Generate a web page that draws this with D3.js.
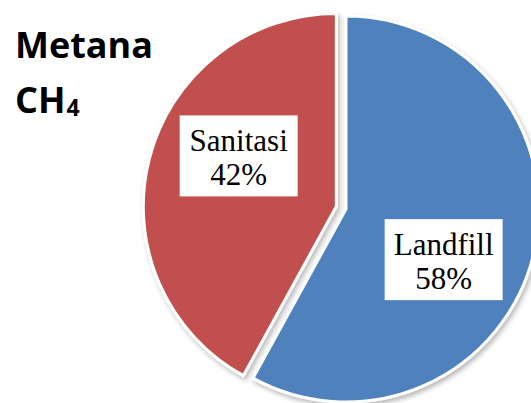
<!DOCTYPE html>
<html>
<head>
<meta charset="utf-8">
<script src="https://cdn.jsdelivr.net/npm/d3@7/dist/d3.min.js"></script>
<style>
  html, body { margin: 0; padding: 0; background: #fff; }
  svg { display: block; }
</style>
</head>
<body>
<svg id="chart" width="531" height="403"></svg>
<script>
// Methane (CH4) sources, share in percent
const categories = ["Landfill", "Sanitasi"];
const values = [58, 42];
const colors = ["#4F81BD", "#C0504D"];
const explode = [0, 10];   // slice pull-out distance in px

const W = 531, H = 403;
const cx = 346, cy = 209, R = 193;

const svg = d3.select("#chart");

const defs = svg.append("defs");
const shadow = defs.append("filter").attr("id", "shadow")
  .attr("x", "-10%").attr("y", "-10%").attr("width", "130%").attr("height", "130%");
shadow.append("feDropShadow")
  .attr("dx", 2).attr("dy", 3).attr("stdDeviation", 2.5)
  .attr("flood-color", "#000").attr("flood-opacity", 0.28);

const pie = d3.pie().sort(null).startAngle(0).endAngle(2 * Math.PI);
const arcs = pie(values);
const arc = d3.arc().innerRadius(0).outerRadius(R);

const g = svg.append("g").attr("transform", `translate(${cx},${cy})`);

function offset(d, dist) {
  const a = (d.startAngle + d.endAngle) / 2;
  return [Math.sin(a) * dist, -Math.cos(a) * dist];
}

g.selectAll("path.slice")
  .data(arcs)
  .join("path")
  .attr("class", "slice")
  .attr("transform", (d, i) => { const o = offset(d, explode[i]); return `translate(${o[0]},${o[1]})`; })
  .attr("d", arc)
  .attr("fill", (d, i) => colors[i])
  .attr("stroke", "#fff")
  .attr("stroke-width", 3)
  .attr("stroke-linejoin", "round")
  .attr("filter", "url(#shadow)");

// Data labels in white boxes
const labelR = 110, labelTurn = 13 * Math.PI / 180;
const boxW = 118, boxH = 81;
const labels = g.selectAll("g.label")
  .data(arcs)
  .join("g")
  .attr("class", "label")
  .attr("transform", (d, i) => {
    const a = (d.startAngle + d.endAngle) / 2 + labelTurn;
    const o = offset(d, explode[i]);
    return `translate(${o[0] + Math.sin(a) * labelR},${o[1] - Math.cos(a) * labelR})`;
  });

labels.append("rect")
  .attr("x", -boxW / 2).attr("y", -boxH / 2)
  .attr("width", boxW).attr("height", boxH)
  .attr("fill", "#fff");

labels.append("text")
  .attr("text-anchor", "middle")
  .attr("font-family", "'Liberation Serif', 'Times New Roman', serif")
  .attr("font-size", 31)
  .attr("fill", "#000")
  .selectAll("tspan")
  .data((d, i) => [categories[i], d.data + "%"])
  .join("tspan")
  .attr("x", 0)
  .attr("y", (t, j) => j === 0 ? -5 : 29)
  .text(t => t);

// Title
const title = svg.append("text")
  .attr("font-family", "'Open Sans', sans-serif")
  .attr("font-weight", "bold")
  .attr("font-size", 36)
  .attr("fill", "#000");
title.append("tspan").attr("x", 15).attr("y", 58).text("Metana");
title.append("tspan").attr("x", 15).attr("y", 113).text("CH");
title.append("tspan").attr("font-size", 23).attr("dx", 1).attr("dy", 3).text("4");
</script>
</body>
</html>
